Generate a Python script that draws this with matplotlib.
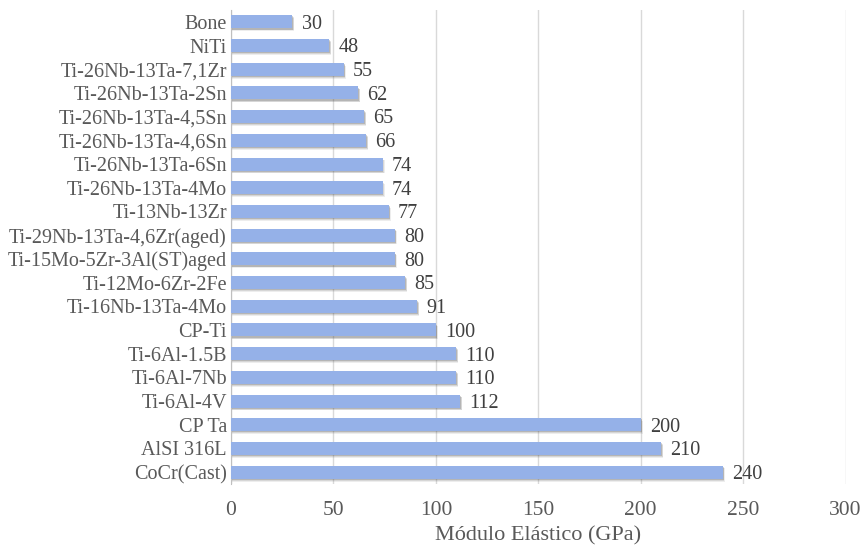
import numpy as np
import matplotlib.pyplot as plt

materials = ['Bone', 'NiTi', 'Ti-26Nb-13Ta-7,1Zr', 'Ti-26Nb-13Ta-2Sn',
             'Ti-26Nb-13Ta-4,5Sn', 'Ti-26Nb-13Ta-4,6Sn', 'Ti-26Nb-13Ta-6Sn',
             'Ti-26Nb-13Ta-4Mo', 'Ti-13Nb-13Zr', 'Ti-29Nb-13Ta-4,6Zr(aged)',
             'Ti-15Mo-5Zr-3Al(ST)aged', 'Ti-12Mo-6Zr-2Fe', 'Ti-16Nb-13Ta-4Mo',
             'CP-Ti', 'Ti-6Al-1.5B', 'Ti-6Al-7Nb', 'Ti-6Al-4V', 'CP Ta',
             'AlSI 316L', 'CoCr(Cast)']
modulus = [30, 48, 55, 62, 65, 66, 74, 74, 77, 80, 80, 85, 91, 100, 110, 110, 112, 200, 210, 240]

plt.rcParams['font.family'] = ['Liberation Serif', 'DejaVu Serif']

fig = plt.figure(figsize=(8.64, 5.48), dpi=100)
ax = fig.add_axes([0.2674, 0.1168, 0.7113, 0.865])

y = np.arange(len(materials))
h = 0.55

# soft drop shadow under each bar
for k, a in [(0.12, 0.10), (0.09, 0.15), (0.05, 0.25)]:
    ax.barh(y + k, np.array(modulus) + k * 8, height=h, left=0,
            color='#555555', alpha=a, linewidth=0, zorder=2)
ax.barh(y, modulus, height=h, color='#95B1E8', linewidth=0, zorder=3)

for yi, v in zip(y, modulus):
    ax.text(v + 4.5, yi + 0.1, str(v), va='center', ha='left',
            fontsize=14.5, color='#404040', zorder=4)

ax.set_ylim(len(materials) - 0.5, -0.5)
ax.set_xlim(0, 300)
ax.set_xticks(np.arange(0, 301, 50))
ax.set_yticks(y)
ax.set_yticklabels(materials, fontsize=14.5, color='#595959')
ax.tick_params(axis='x', labelsize=15.5, colors='#595959', length=0, pad=12)
ax.tick_params(axis='y', length=0, pad=3)
ax.xaxis.grid(True, color='#D9D9D9', linewidth=1, zorder=0)
ax.set_axisbelow(True)
for s in ['top', 'right', 'bottom']:
    ax.spines[s].set_visible(False)
ax.spines['left'].set_color('#BFBFBF')
ax.set_xlabel('Módulo Elástico (GPa)', fontsize=16, color='#595959', labelpad=5)

fig.savefig('out.png', dpi=100)
